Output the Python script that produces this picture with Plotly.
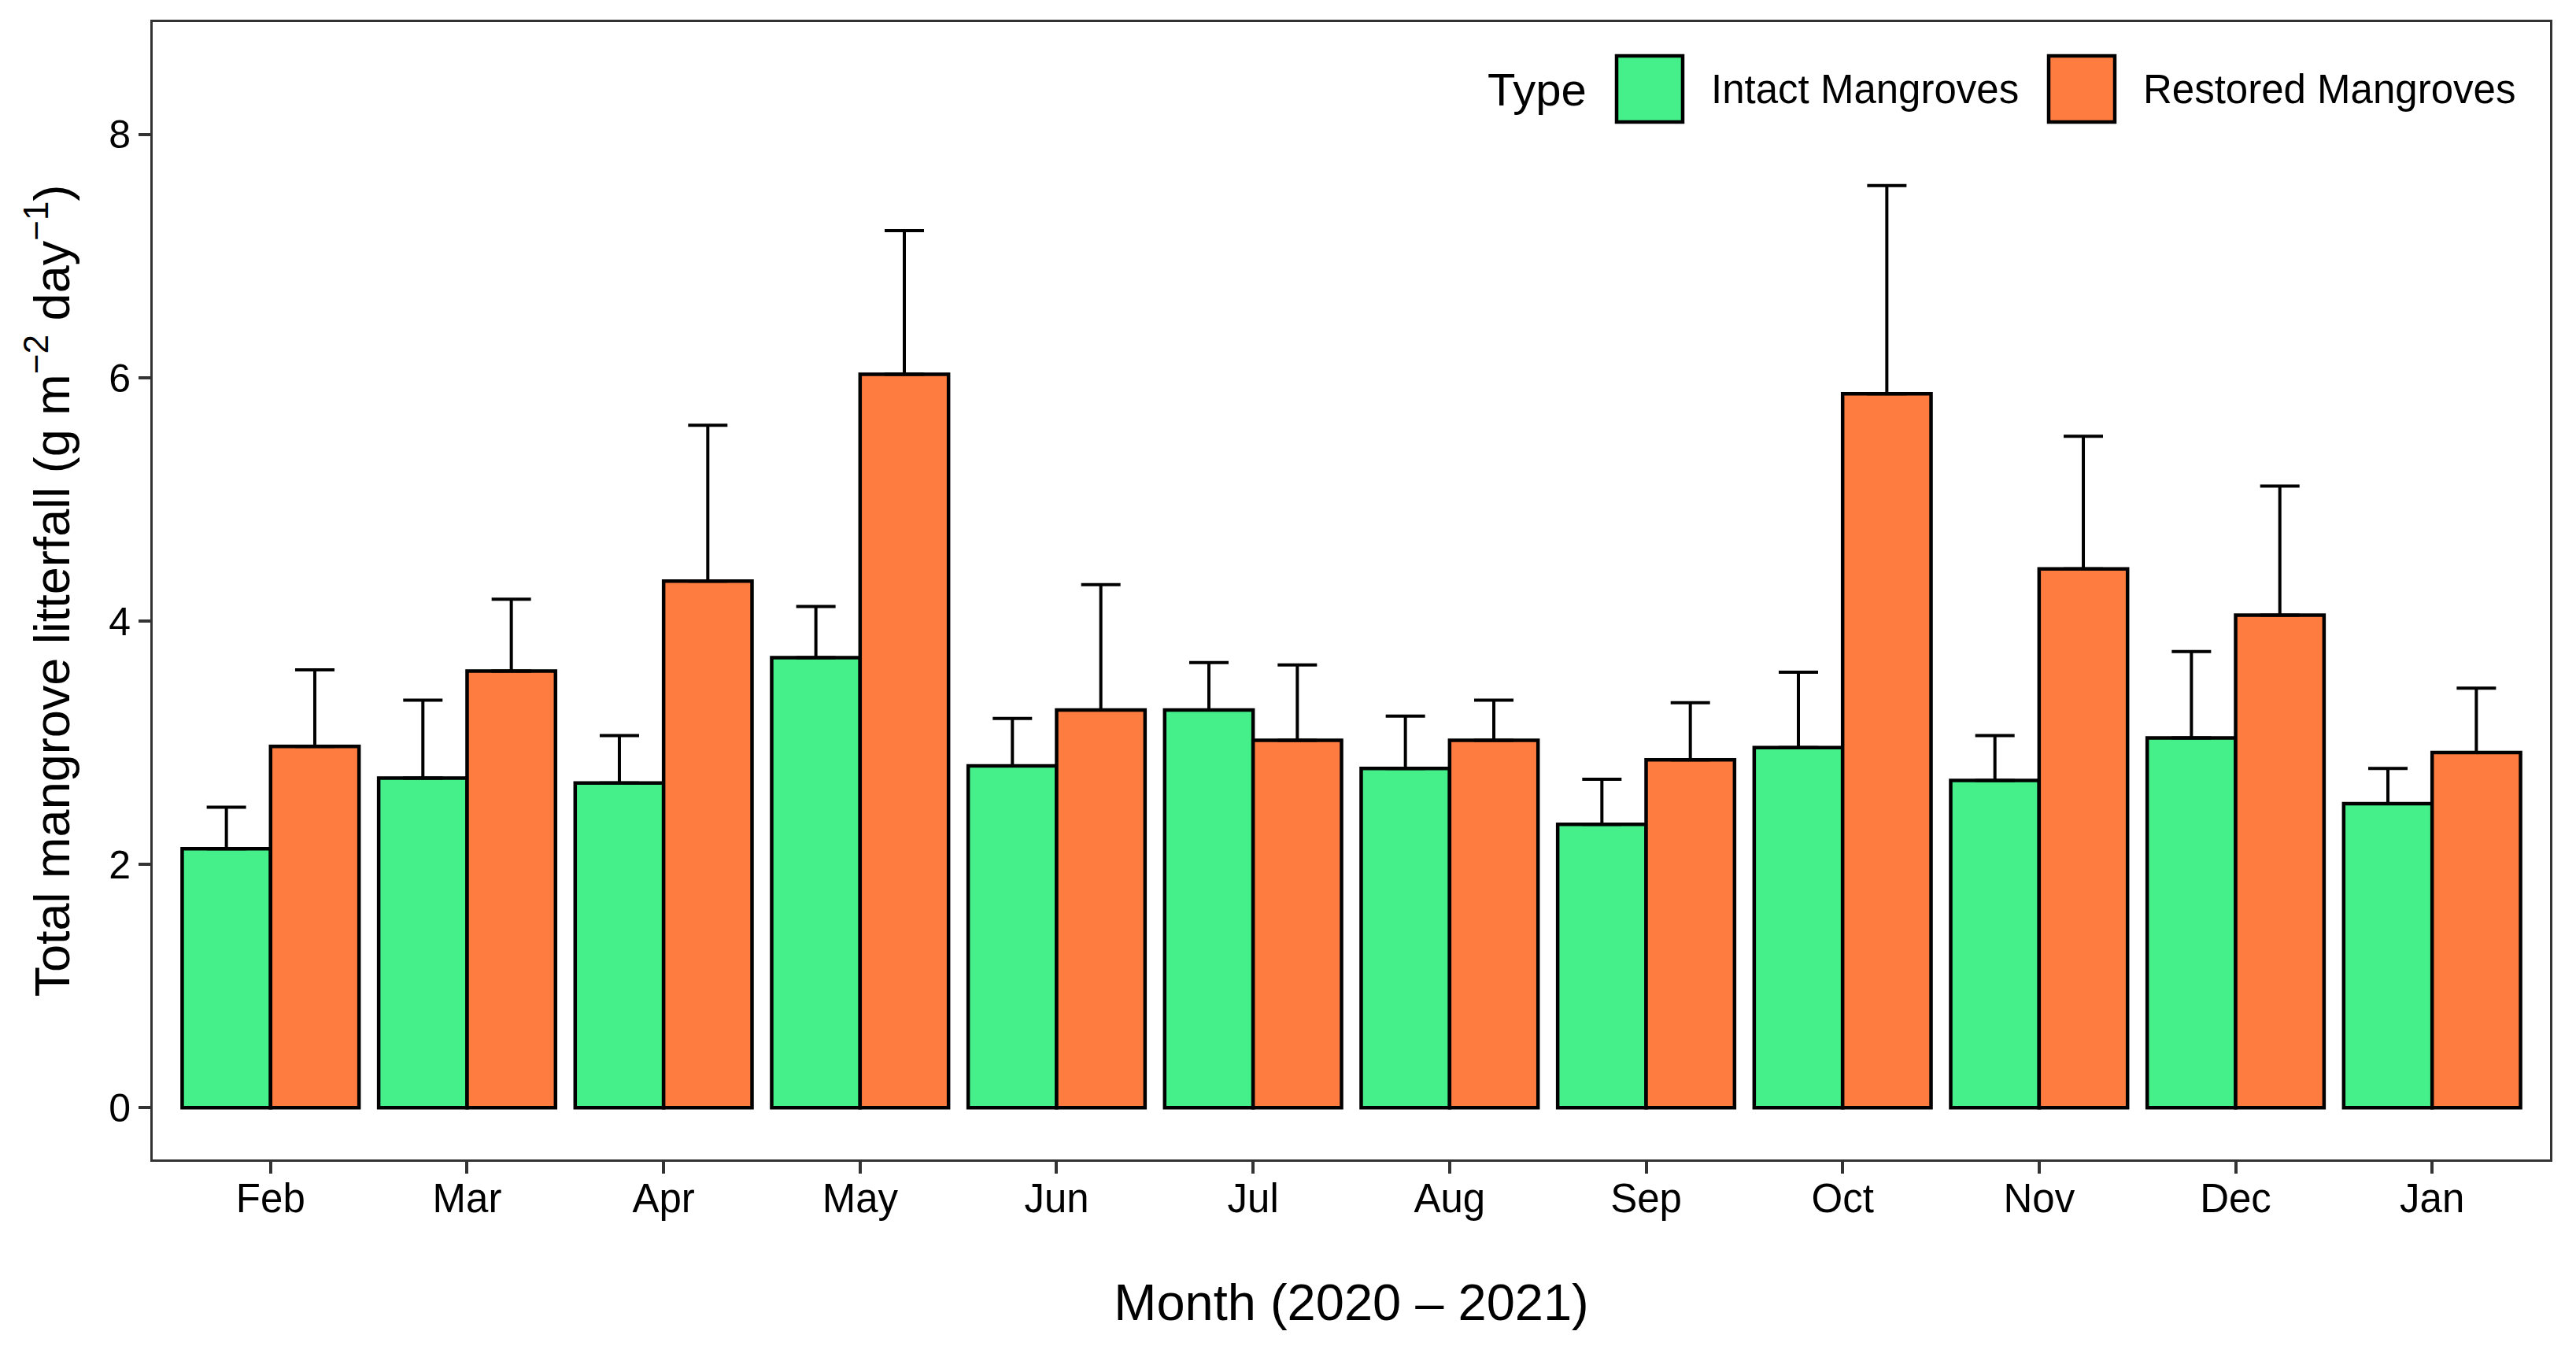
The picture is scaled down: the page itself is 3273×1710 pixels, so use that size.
import plotly.graph_objects as go

months = ["Feb", "Mar", "Apr", "May", "Jun", "Jul", "Aug", "Sep", "Oct", "Nov", "Dec", "Jan"]
intact_mean = [2.13, 2.71, 2.67, 3.70, 2.81, 3.27, 2.79, 2.33, 2.96, 2.69, 3.04, 2.50]
intact_upper = [2.47, 3.35, 3.06, 4.12, 3.20, 3.66, 3.22, 2.70, 3.58, 3.06, 3.75, 2.79]
restored_mean = [2.97, 3.59, 4.33, 6.03, 3.27, 3.02, 3.02, 2.86, 5.87, 4.43, 4.05, 2.92]
restored_upper = [3.60, 4.18, 5.61, 7.21, 4.30, 3.64, 3.35, 3.33, 7.58, 5.52, 5.11, 3.45]
series_names = ["Intact Mangroves", "Restored Mangroves"]
series_colors = ["#45EF89", "#FE7C3F"]

W, H = 3273, 1710
OFF = 8  # page body margin
# plot area in page pixels
PX0, PX1, PY0, PY1 = 194, 3240, 28, 1473
L = PX0 - OFF
R = W - (PX1 - OFF)
T = PY0 - OFF
B = H - (PY1 - OFF)
FONT = "Liberation Sans, Arial, sans-serif"

fig = go.Figure()
for name, color, mean, upper in [
    (series_names[0], series_colors[0], intact_mean, intact_upper),
    (series_names[1], series_colors[1], restored_mean, restored_upper),
]:
    err = [u - m for u, m in zip(upper, mean)]
    fig.add_trace(go.Bar(
        x=months, y=mean, name=name, showlegend=False,
        marker=dict(color=color, line=dict(color="black", width=4.5)),
        error_y=dict(type="data", symmetric=False, array=err,
                     arrayminus=[0] * len(err), color="black",
                     thickness=4, width=25),
    ))

# manual legend (paper coordinates converted from page pixels)
pw, ph = PX1 - PX0, PY1 - PY0
def px(x):
    return (x - PX0) / pw
def py(y):
    return (PY1 - y) / ph

shapes = []
annotations = []
yc = 113
annotations.append(dict(x=px(2018), y=py(yc), xref="paper", yref="paper",
                        text="Type", showarrow=False, xanchor="right", yanchor="middle",
                        font=dict(family=FONT, size=58, color="black")))
for (x0, x1, tx), name, color in zip([(2054, 2138, 2172), (2603, 2687, 2721)], series_names, series_colors):
    shapes.append(dict(type="rect", xref="paper", yref="paper",
                       x0=px(x0), x1=px(x1), y0=py(yc - 42), y1=py(yc + 42),
                       fillcolor=color, line=dict(color="black", width=4.5)))
    annotations.append(dict(x=px(tx), y=py(yc), xref="paper", yref="paper",
                            text=name, showarrow=False, xanchor="left", yanchor="middle",
                            font=dict(family=FONT, size=51, color="black")))

fig.update_layout(
    width=W, height=H,
    margin=dict(l=L, r=R, t=T, b=B),
    paper_bgcolor="white", plot_bgcolor="white",
    barmode="group", bargap=0.1, bargroupgap=0,
    font=dict(family=FONT, color="black"),
    shapes=shapes, annotations=annotations,
    xaxis=dict(
        range=[-0.6, 11.6], showgrid=False, zeroline=False,
        showline=True, mirror=True, linecolor="#333333", linewidth=3,
        ticks="outside", ticklen=15, tickwidth=4, tickcolor="#333333",
        ticklabelstandoff=-12,
        tickfont=dict(family=FONT, size=51, color="black"),
        title=dict(text="Month (2020 – 2021)", standoff=82,
                   font=dict(family=FONT, size=65, color="black")),
    ),
    yaxis=dict(
        range=[-0.425, 8.925], tickvals=[0, 2, 4, 6, 8], showgrid=False, zeroline=False,
        showline=True, mirror=True, linecolor="#333333", linewidth=3,
        ticks="outside", ticklen=15, tickwidth=4, tickcolor="#333333",
        tickfont=dict(family=FONT, size=50, color="black"),
        title=dict(text="Total mangrove litterfall (g m<sup>−2</sup> day<sup>−1</sup>)", standoff=30,
                   font=dict(family=FONT, size=63, color="black")),
    ),
)

fig.write_html("out.html")
